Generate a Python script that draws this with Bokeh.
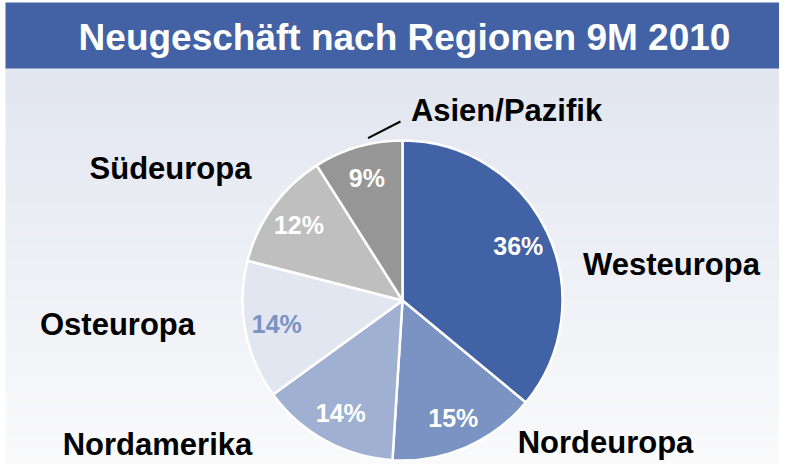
import numpy as np
from bokeh.plotting import figure
from bokeh.models import Range1d, ColumnDataSource
from bokeh.core.properties import value
from bokeh.embed import file_html
from bokeh.resources import INLINE

# ---- data ----
regions = ["Westeuropa", "Nordeuropa", "Nordamerika", "Osteuropa", "Südeuropa", "Asien/Pazifik"]
shares = [36, 15, 14, 14, 12, 9]
title = "Neugeschäft nach Regionen 9M 2010"

# ---- style ----
colors = ["#4162A5", "#7A93C3", "#A0B0D2", "#E2E6F0", "#BFBFBF", "#969696"]
pct_colors = ["white", "white", "white", "#7A93C3", "white", "white"]
# outer label offsets from pie centre (pixels, y up)
label_off = [(269, 36), (203, -142), (-245, -144), (-285, -24), (-232, 132), (104, 190)]

W, H = 779, 464
cx, cy, R = 402, 172, 160
FONT = "Liberation Sans"

p = figure(width=W, height=H, output_backend="svg", toolbar_location=None,
           x_range=Range1d(0, W), y_range=Range1d(8, 8 + H), min_border=0)
p.axis.visible = False
p.grid.visible = False
p.outline_line_color = None
p.background_fill_color = "white"
p.border_fill_color = "white"

# gradient background
top_c = np.array([0xE2, 0xE6, 0xF0])
bot_c = np.array([0xFB, 0xFB, 0xFC])
nrows = 200
t = np.linspace(0, 1, nrows)[:, None]
cols = (bot_c * (1 - t) + top_c * t).astype(np.uint32)
img = np.empty((nrows, 1), dtype=np.uint32)
view = img.view(dtype=np.uint8).reshape((nrows, 1, 4))
view[:, 0, 0] = cols[:, 0]
view[:, 0, 1] = cols[:, 1]
view[:, 0, 2] = cols[:, 2]
view[:, 0, 3] = 255
p.image_rgba(image=[img], x=5, y=0, dw=790, dh=405)

# title bar
p.quad(left=5, right=800, bottom=404, top=470, fill_color="#4262A5", line_color=None)
p.text(x=[404], y=[435], text=[title], text_color="white",
       text_font=value(FONT),
       text_font_style="bold", text_font_size="37px", text_align="center",
       text_baseline="middle")

# pie
frac = np.array(shares) / sum(shares)
cum = np.concatenate([[0], np.cumsum(frac)])
start = np.pi / 2 - 2 * np.pi * cum[:-1]
end = np.pi / 2 - 2 * np.pi * cum[1:]
mid = (start + end) / 2
src = ColumnDataSource(dict(start=start, end=end, color=colors))
p.wedge(x=cx, y=cy, radius=R, start_angle="start", end_angle="end",
        direction="clock", fill_color="color", line_color="white", line_width=2.5,
        source=src)

# percentage labels
lr = 0.8 * R
p.text(x=cx + lr * np.cos(mid), y=cy + lr * np.sin(mid),
       text=[f"{s}%" for s in shares], text_color=pct_colors,
       text_font=value(FONT), text_font_style="bold", text_font_size="25px",
       text_align="center", text_baseline="middle")

# outer labels
p.text(x=[cx + o[0] for o in label_off], y=[cy + o[1] for o in label_off],
       text=regions, text_color="black", text_font=value(FONT),
       text_font_style="bold", text_font_size="31px", text_align="center",
       text_baseline="middle")

# leader line for Asien/Pazifik
p.segment(x0=[cx + (R + 6) * np.cos(np.radians(102))], y0=[cy + (R + 6) * np.sin(np.radians(102))],
          x1=[cx - 2], y1=[cy + 179], line_color="black", line_width=2)

open("out.html", "w").write(file_html(p, INLINE))
